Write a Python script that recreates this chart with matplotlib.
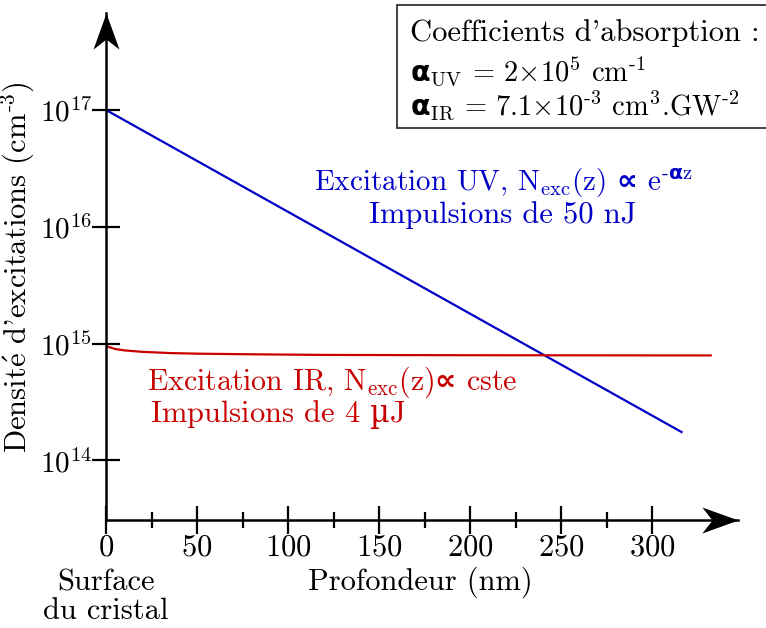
import matplotlib
matplotlib.use("Agg")
import matplotlib.pyplot as plt
from matplotlib.path import Path
from matplotlib.patches import Rectangle
from matplotlib.ticker import FixedLocator, NullLocator

plt.rcParams["font.family"] = ["cmr10", "DejaVu Sans"]
plt.rcParams["mathtext.fontset"] = "custom"
plt.rcParams["mathtext.rm"] = "cmr10"
plt.rcParams["mathtext.it"] = "cmmi10"
plt.rcParams["mathtext.sf"] = "DejaVu Sans:bold"
plt.rcParams["axes.formatter.use_mathtext"] = True

# UV excitation: straight decay in log scale (read at both ends)
uv_z = [0, 316]
uv_n = [1.0e17, 1.75e14]

# IR excitation: almost constant
ir_z = [0, 5, 10, 20, 35, 50, 80, 120, 200, 332]
ir_n = [9.5e14, 9.0e14, 8.75e14, 8.5e14, 8.3e14, 8.2e14, 8.1e14, 8.0e14, 7.95e14, 7.92e14]

x_major = [0, 50, 100, 150, 200, 250, 300]
x_minor = [25, 75, 125, 175, 225, 275]
y_major = [1e14, 1e15, 1e16, 1e17]
y_labels = ["$10^{14}$", "$10^{15}$", "$10^{16}$", "$10^{17}$"]

blue = "#0000c8"
red = "#c80000"
fs = 22

fig = plt.figure(figsize=(7.66, 6.28), dpi=100)
W, H = 766, 628
ax = fig.add_axes([106 / W, (H - 520) / H, (738 - 106) / W, (520 - 13) / H])

ax.plot(uv_z, uv_n, color=blue, lw=1.6)
ax.plot(ir_z, ir_n, color=red, lw=1.6)

ax.set_yscale("log")
ax.set_xlim(0, 347)
ax.set_ylim(10 ** 13.49, 10 ** 17.83)

for s in ["top", "right"]:
    ax.spines[s].set_visible(False)
for s in ["left", "bottom"]:
    ax.spines[s].set_linewidth(1.8)

ax.xaxis.set_major_locator(FixedLocator(x_major))
ax.xaxis.set_minor_locator(FixedLocator(x_minor))
ax.set_yticks(y_major, y_labels)
ax.yaxis.set_minor_locator(NullLocator())
ax.tick_params(which="major", direction="inout", length=20, width=1.6, labelsize=fs)
ax.tick_params(axis="y", labelsize=21)
ax.tick_params(which="minor", direction="inout", length=12, width=1.6)
ax.tick_params(axis="x", which="major", pad=0)
ax.tick_params(axis="y", which="major", pad=0)

# arrow heads at the axis ends
head = Path([(0, 0), (-1, 0.36), (-0.72, 0), (-1, -0.36), (0, 0)],
            [Path.MOVETO, Path.LINETO, Path.LINETO, Path.LINETO, Path.CLOSEPOLY])
ax.plot([1], [0], transform=ax.transAxes, marker=head, ms=52, color="black",
        mew=0, clip_on=False)
head_up = Path([(0, 0), (-0.36, -1), (0, -0.72), (0.36, -1), (0, 0)],
               [Path.MOVETO, Path.LINETO, Path.LINETO, Path.LINETO, Path.CLOSEPOLY])
ax.plot([0], [1], transform=ax.transAxes, marker=head_up, ms=52, color="black",
        mew=0, clip_on=False)

ax.text(218, 10 ** 16.37, "Excitation UV, N$_\\mathrm{exc}$(z) $\\mathsf{∝}$ e$^{\\mathsf{\\text{-}α}\\mathrm{z}}$",
        color=blue, fontsize=21, ha="center", va="center")
ax.text(218, 10 ** 16.10, "Impulsions de 50 nJ",
        color=blue, fontsize=fs, ha="center", va="center")
ax.text(22.5, 10 ** 14.67, "Excitation IR, N$_\\mathrm{exc}$(z)$\\mathsf{∝}$ cste",
        color=red, fontsize=21.5, ha="left", va="center")
ax.text(24, 10 ** 14.39, "Impulsions de 4 $\\mathrm{µ}$J", color=red, fontsize=fs,
        ha="left", va="center", math_fontfamily="dejavuserif")

ax.set_ylabel("Densit$\\acute{\\mathrm{e}}$ d'excitations (cm$^{\\text{-3}}$)", fontsize=fs,
              math_fontfamily="cm")
ax.yaxis.set_label_coords((37 - 106) / (738 - 106), (520 - 267) / (520 - 13))
fig.text(420 / W, 1 - 582 / H, "Profondeur (nm)", fontsize=fs, ha="center", va="center")
fig.text(106 / W, 1 - 583 / H, "Surface", fontsize=fs, ha="center", va="center")
fig.text(106 / W, 1 - 611 / H, "du cristal", fontsize=fs, ha="center", va="center")

# absorption coefficients box
fig.patches.append(Rectangle((397 / W, 1 - 128 / H), 400 / W, 123 / H,
                             transform=fig.transFigure, fc="white", ec="#222222", lw=1.2))
fig.text(410 / W, 1 - 33 / H, "Coefficients d'absorption :", fontsize=fs,
         ha="left", va="center")
fig.text(410 / W, 1 - 72 / H, "$\\mathsf{α}_\\mathrm{UV}$ = 2×10$^5$ cm$^{\\text{-1}}$",
         fontsize=20.5, ha="left", va="center")
fig.text(410 / W, 1 - 106 / H,
         "$\\mathsf{α}_\\mathrm{IR}$ = 7.1×10$^{\\text{-3}}$ cm$^3$.GW$^{\\text{-2}}$",
         fontsize=20.5, ha="left", va="center")

fig.savefig("out.png", dpi=100)
